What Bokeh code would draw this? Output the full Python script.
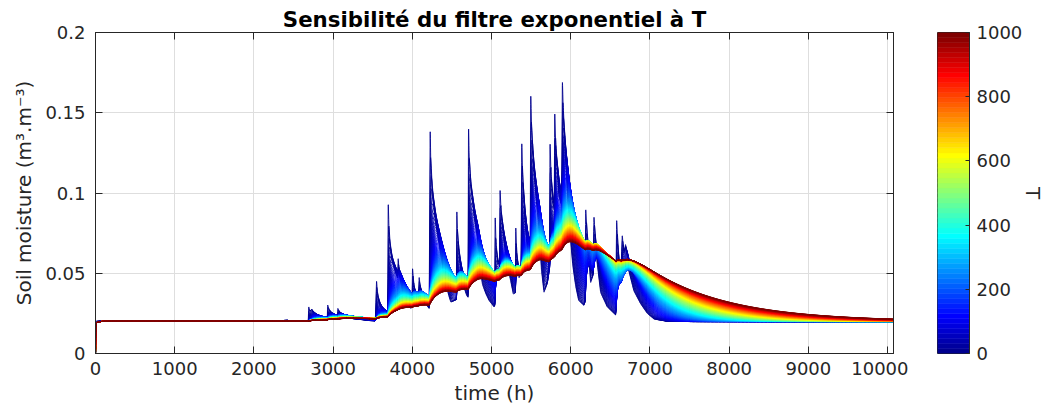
import numpy as np
from bokeh.plotting import figure
from bokeh.layouts import row
from bokeh.models import (ColumnDataSource, FixedTicker, LinearAxis,
                          CustomJSTickFormatter)
from bokeh.embed import file_html
from bokeh.resources import INLINE

# ---------------- data ----------------
# raw soil-moisture series (the T ~ 1 curve), time in hours
raw_time = [0, 1, 2360, 2385, 2420, 2440, 2686, 2691, 2705, 2722, 2729, 2745,
            2780, 2840, 2926, 2930, 2945, 2975, 3020, 3054, 3058, 3075, 3110,
            3170, 3260, 3380, 3460, 3525, 3533, 3548, 3560, 3585, 3630, 3670,
            3690, 3695, 3703, 3715, 3740, 3790, 3815, 3821, 3835, 3870, 3920,
            3960, 3981, 3995, 4002, 4020, 4050, 4080, 4086, 4105, 4150, 4212,
            4225, 4232, 4250, 4290, 4338, 4380, 4420, 4460, 4486, 4555, 4561,
            4570, 4590, 4620, 4660, 4687, 4703, 4709, 4716, 4735, 4780, 4822,
            4850, 4885, 4930, 4969, 5032, 5040, 5045, 5058, 5080, 5100, 5107,
            5120, 5150, 5190, 5242, 5275, 5300, 5305, 5318, 5347, 5372, 5381,
            5392, 5420, 5450, 5480, 5488, 5494, 5505, 5530, 5565, 5599, 5630,
            5662, 5700, 5732, 5738, 5752, 5780, 5792, 5797, 5812, 5850, 5885,
            5894, 5905, 5925, 5960, 5990, 6025, 6062, 6100, 6166, 6180, 6188,
            6210, 6251, 6280, 6293, 6320, 6377, 6461, 6566, 6579, 6600, 6620,
            6640, 6650, 6670, 6692, 6730, 6797, 6882, 6966, 7050, 7200, 7500,
            10075]
raw_sm = [0.0, 0.0202, 0.0202, 0.0207, 0.0207, 0.0202, 0.0202, 0.0295, 0.0262,
          0.0272, 0.0277, 0.0258, 0.0238, 0.0224, 0.0216, 0.0307, 0.0275,
          0.0250, 0.0232, 0.0226, 0.0284, 0.0262, 0.0240, 0.0225, 0.0216,
          0.0210, 0.0205, 0.0204, 0.0215, 0.0458, 0.0360, 0.0300, 0.0260,
          0.0250, 0.0250, 0.0970, 0.0800, 0.0680, 0.0580, 0.0500, 0.0470,
          0.0600, 0.0490, 0.0400, 0.0330, 0.0300, 0.0280, 0.0300, 0.0540,
          0.0400, 0.0360, 0.0380, 0.0480, 0.0380, 0.0320, 0.0280, 0.1420,
          0.1200, 0.1000, 0.0820, 0.0680, 0.0550, 0.0440, 0.0360, 0.0320,
          0.0340, 0.0914, 0.0750, 0.0600, 0.0480, 0.0400, 0.0360, 0.0350,
          0.1456, 0.1250, 0.1050, 0.0850, 0.0720, 0.0560, 0.0430, 0.0370,
          0.0330, 0.0290, 0.0310, 0.0880, 0.0650, 0.0550, 0.0580, 0.1037,
          0.0880, 0.0720, 0.0580, 0.0450, 0.0370, 0.0380, 0.0810, 0.0600,
          0.0470, 0.0500, 0.1340, 0.1100, 0.0820, 0.0660, 0.0620, 0.0650,
          0.1650, 0.1400, 0.1150, 0.0950, 0.0780, 0.0520, 0.0380, 0.0450,
          0.0650, 0.1340, 0.1080, 0.0900, 0.0950, 0.1528, 0.1250, 0.0980,
          0.0920, 0.1720, 0.1500, 0.1280, 0.0980, 0.0750, 0.0550, 0.0420,
          0.0330, 0.0300, 0.0350, 0.0915, 0.0700, 0.0440, 0.0500, 0.0860,
          0.0620, 0.0380, 0.0290, 0.0240, 0.0845, 0.0600, 0.0450, 0.0600,
          0.0740, 0.0620, 0.0680, 0.0520, 0.0390, 0.0310, 0.0250, 0.0215,
          0.0202, 0.0199, 0.0199]

# characteristic times T of the exponential filter (one curve each)
T_values = [1] + list(range(5, 1001, 5))
T_MAX = 1000
X_MAX = 10075

x_ticks = [0, 1000, 2000, 3000, 4000, 5000, 6000, 7000, 8000, 9000, 10000]
y_ticks = [0, 0.05, 0.1, 0.15, 0.2]
cbar_ticks = [0, 200, 400, 600, 800, 1000]

TITLE = "Sensibilité du filtre exponentiel à T"
XLABEL = "time (h)"
YLABEL = "Soil moisture (m³.m⁻³)"
CLABEL = "T"

FONT = "DejaVu Sans"
INK = "#262626"


# ---------------- MATLAB jet colormap ----------------
def jet(m=64):
    n = int(np.ceil(m / 4))
    u = np.concatenate([np.arange(1, n + 1) / n, np.ones(n - 1),
                        np.arange(n, 0, -1) / n])
    g = int(np.ceil(n / 2)) - (1 if m % 4 == 1 else 0) + np.arange(1, len(u) + 1)
    r = g + n
    b = g - n
    gm, rm, bm = g <= m, r <= m, b >= 1
    J = np.zeros((m, 3))
    J[r[rm] - 1, 0] = u[:rm.sum()]
    J[g[gm] - 1, 1] = u[:gm.sum()]
    J[b[bm] - 1, 2] = u[-bm.sum():]
    return ["#%02x%02x%02x" % tuple(int(round(c * 255)) for c in rgb) for rgb in J]


NCOL = 64
palette = jet(NCOL)

# ---------------- recursive exponential filter (SWI) ----------------
N = X_MAX + 1
hours = np.arange(N, dtype=float)
ms = np.interp(hours, raw_time, raw_sm)
T = np.array(T_values, dtype=float)
decay = np.exp(-1.0 / T)
K = np.ones_like(T)
s = np.full(len(T), ms[0])
swi = np.empty((len(T), N))
swi[:, 0] = s
for i in range(1, N):
    K = K / (K + decay)
    s = s + K * (ms[i] - s)
    swi[:, i] = s

keep = set(range(0, N, 10)) | set(range(0, 15)) | {N - 1}
for kt in raw_time:
    for d in (-1, 0, 1, 2, 3):
        if 0 <= kt + d < N:
            keep.add(int(kt + d))
idx = np.array(sorted(keep))
xs_line = hours[idx].astype(np.float32)
src = ColumnDataSource(data=dict(
    xs=[xs_line for _ in T_values],
    ys=[swi[j, idx].astype(np.float32) for j in range(len(T_values))],
    color=[palette[min(int(t / T_MAX * NCOL), NCOL - 1)] for t in T_values],
))

# ---------------- main figure ----------------
p = figure(width=908, height=417, x_range=(0, X_MAX), y_range=(0, 0.2),
           output_backend="svg", toolbar_location=None,
           min_border_left=95, min_border_right=15, min_border_top=32,
           min_border_bottom=60, background_fill_color="white",
           border_fill_color="white")
p.multi_line(xs="xs", ys="ys", line_color="color", line_width=0.9, source=src)

p.title.text = TITLE
p.title.align = "center"
p.title.text_font = FONT
p.title.text_font_size = "21.3px"
p.title.text_font_style = "bold"
p.title.text_color = "black"
p.title.standoff = 2
p.title.offset = 49

p.outline_line_color = INK
p.outline_line_width = 1

fmt = CustomJSTickFormatter(code="return String(tick);")
for ax, ticks in ((p.xaxis[0], x_ticks), (p.yaxis[0], y_ticks)):
    ax.ticker = FixedTicker(ticks=ticks)
    ax.formatter = fmt
    ax.major_tick_in = 7
    ax.major_tick_out = 0
    ax.minor_tick_line_color = None
    ax.axis_line_color = INK
    ax.major_tick_line_color = INK
    ax.major_label_text_font = FONT
    ax.major_label_text_font_size = "18px"
    ax.major_label_text_color = INK
    ax.axis_label_text_font = FONT
    ax.axis_label_text_font_size = "20px"
    ax.axis_label_text_font_style = "normal"
    ax.axis_label_text_color = INK

p.xaxis.axis_label = XLABEL
p.yaxis.axis_label = YLABEL
p.xaxis.major_label_standoff = 8
p.yaxis.major_label_standoff = 10
p.xaxis.axis_label_standoff = 3
p.yaxis.axis_label_standoff = 6

blank = CustomJSTickFormatter(code="return '';")
for loc, ticks in (("above", x_ticks), ("right", y_ticks)):
    ax = LinearAxis(ticker=FixedTicker(ticks=ticks), formatter=blank,
                    major_tick_in=7, major_tick_out=0,
                    minor_tick_line_color=None, major_label_standoff=0,
                    major_label_text_font_size="1px",
                    axis_line_color=INK, major_tick_line_color=INK)
    p.add_layout(ax, loc)

p.xgrid.ticker = FixedTicker(ticks=x_ticks)
p.ygrid.ticker = FixedTicker(ticks=y_ticks)
p.grid.grid_line_color = "#dedede"
p.grid.grid_line_width = 1

# ---------------- colour bar figure ----------------
cb = figure(width=140, height=417, x_range=(0, 1), y_range=(0, T_MAX),
            output_backend="svg", toolbar_location=None,
            y_axis_location="right",
            min_border_left=29, min_border_right=72, min_border_top=31,
            min_border_bottom=64)
band = T_MAX / NCOL
cb.quad(left=0, right=1,
        bottom=[k * band for k in range(NCOL)],
        top=[(k + 1) * band for k in range(NCOL)],
        fill_color=palette, line_color=palette, line_width=0.5)
cb.xaxis.visible = False
cb.grid.visible = False
cb.outline_line_color = INK
cax = cb.yaxis[0]
cax.ticker = FixedTicker(ticks=cbar_ticks)
cax.formatter = fmt
cax.major_tick_in = 4
cax.major_tick_out = 0
cax.minor_tick_line_color = None
cax.axis_line_color = INK
cax.major_tick_line_color = INK
cax.major_label_text_font = FONT
cax.major_label_text_font_size = "18px"
cax.major_label_text_color = INK
cax.major_label_standoff = 7
cax.axis_label = CLABEL
cax.axis_label_text_font = FONT
cax.axis_label_text_font_size = "20px"
cax.axis_label_text_font_style = "normal"
cax.axis_label_text_color = INK
cax.axis_label_standoff = -4
try:
    cax.axis_label_orientation = "vertical"
except Exception:
    pass

layout = row(p, cb)
open("out.html", "w").write(file_html(layout, INLINE))
